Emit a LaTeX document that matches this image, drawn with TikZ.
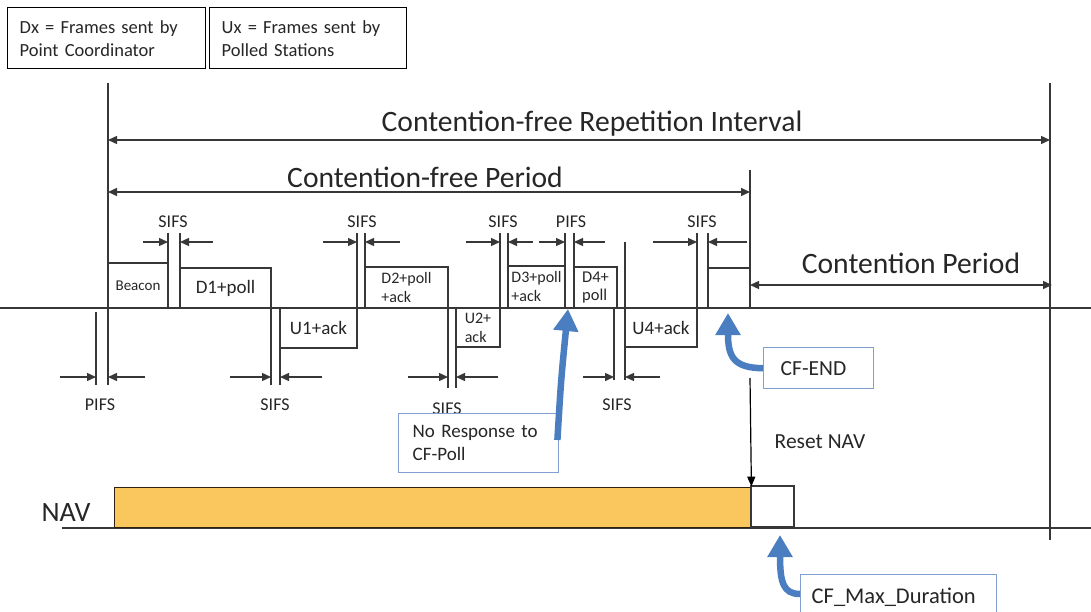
\documentclass[tikz,border=0pt]{standalone}
\usepackage{fontspec}
\setmainfont{Carlito}
\usetikzlibrary{arrows.meta}
\definecolor{linegray}{RGB}{55,55,55}
\definecolor{callblue}{RGB}{74,126,193}
\definecolor{boxblue}{RGB}{130,160,205}
\definecolor{navorange}{RGB}{250,199,95}
\tikzset{
  ln/.style={draw=linegray, line width=1.6pt},
  dim/.style={draw=linegray, line width=1.4pt, -{Triangle[length=9pt,width=8pt]}},
  dimboth/.style={draw=linegray, line width=1.4pt, {Triangle[length=9pt,width=8pt]}-{Triangle[length=9pt,width=8pt]}},
  lbl/.style={text=black!85, inner sep=0pt},
  frm/.style={ln, rectangle, inner sep=0pt, text=black!85, align=left},
  legend/.style={draw=black, line width=1.4pt, rectangle, anchor=north west, align=left, inner xsep=12pt,
    text=black!85, minimum height=61pt, font=\fontsize{18.5}{23}\selectfont},
  callbox/.style={draw=boxblue, line width=1.4pt, rectangle, fill=white, text=black!85, align=left, anchor=north west},
  callarrow/.style={draw=callblue, line width=6.5pt, -{Triangle[length=22pt,width=24pt]}},
  gapfont/.style={lbl, font=\fontsize{18}{20}\selectfont},
  bigfont/.style={lbl, font=\fontsize{29.6}{33}\selectfont},
}
\begin{document}
\begin{tikzpicture}[x=1pt, y=-1pt]
  \useasboundingbox (0,0) rectangle (1091,612);
  \node[legend, text width=174pt] (dxkey) at (7,7) {Dx = Frames sent by\\Point Coordinator};
  \node[legend, text width=173pt] (uxkey) at (209,7) {Ux = Frames sent by\\Polled Stations};

  \draw[ln] (0,308) -- (1091,308);
  \draw[ln] (108,83) -- (108,385);
  \draw[ln] (750,170) -- (750,308);
  \draw[ln] (1050,83) -- (1050,540);

  \draw[dimboth] (108,140) -- (1050,140);
  \node[bigfont] (cfri) at (592,124) {Contention-free Repetition Interval};
  \draw[dimboth] (108,192) -- (750,192);
  \node[bigfont] (cfp) at (425,177) {Contention-free Period};
  \draw[dimboth] (750,285) -- (1052,285);
  \node[bigfont] (cp) at (911,263) {Contention Period};

  \node[frm, minimum width=60pt, minimum height=45pt, font=\fontsize{15}{17}\selectfont] (beacon) at (138,285.5) {Beacon};
  \node[frm, minimum width=91pt, minimum height=40pt, font=\fontsize{19}{21}\selectfont] (d1) at (225.5,288) {D1+poll};
  \node[frm, minimum width=77pt, minimum height=40pt, font=\fontsize{19}{21}\selectfont] (u1) at (318.5,328) {U1+ack};
  \node[frm, minimum width=83pt, minimum height=41pt, font=\fontsize{16}{19}\selectfont] (d2) at (406.5,287.5) {D2+poll\\+ack};
  \node[frm, minimum width=44pt, minimum height=39pt, font=\fontsize{16}{19}\selectfont] (u2) at (478,327.5) {U2+\\ack};
  \node[frm, minimum width=57pt, minimum height=42pt, font=\fontsize{16}{19}\selectfont] (d3) at (536.5,287) {D3+poll\\+ack};
  \node[frm, minimum width=43pt, minimum height=41pt, font=\fontsize{16.5}{18}\selectfont] (d4) at (595.5,287.5) {D4+\\poll};
  \node[frm, minimum width=72pt, minimum height=39pt, font=\fontsize{19}{21}\selectfont] (u4) at (661,327.5) {U4+ack};
  \node[frm, minimum width=42pt, minimum height=40pt] (cfeframe) at (729,288) {};

  \draw[ln] (168,233) -- (168,308) (180,233) -- (180,308);
  \draw[dim] (143,242) -- (168,242);
  \draw[dim] (213,242) -- (180,242);
  \node[gapfont] (sifsa) at (173,222) {SIFS};
  \draw[ln] (357,233) -- (357,308) (365,233) -- (365,308);
  \draw[dim] (323,242) -- (357,242);
  \draw[dim] (400,242) -- (365,242);
  \node[gapfont] (sifsb) at (362,222) {SIFS};
  \draw[ln] (500,233) -- (500,308) (508,233) -- (508,308);
  \draw[dim] (466,242) -- (500,242);
  \draw[dim] (533,242) -- (508,242);
  \node[gapfont] (sifsc) at (503,222) {SIFS};
  \draw[ln] (565,233) -- (565,308) (574,233) -- (574,308);
  \draw[dim] (539,242) -- (565,242);
  \draw[dim] (605,242) -- (574,242);
  \node[gapfont] (pifsb) at (571,222) {PIFS};
  \draw[ln] (697,233) -- (697,308) (708,233) -- (708,308);
  \draw[dim] (653,242) -- (697,242);
  \draw[dim] (747,242) -- (708,242);
  \node[gapfont] (sifsd) at (702,222) {SIFS};

  \draw[ln] (96,312) -- (96,385);
  \draw[dim] (60,377) -- (96,377);
  \draw[dim] (145,377) -- (108,377);
  \node[gapfont] (pifsa) at (100,405) {PIFS};
  \draw[ln] (271,268) -- (271,385) (280,308) -- (280,385);
  \draw[dim] (230,377) -- (271,377);
  \draw[dim] (322,377) -- (280,377);
  \node[gapfont] (sifse) at (275,405) {SIFS};
  \draw[ln] (448,267) -- (448,388) (456,308) -- (456,388);
  \draw[dim] (408,377) -- (448,377);
  \draw[dim] (498,377) -- (456,377);
  \node[gapfont] (sifsf) at (447,409) {SIFS};
  \draw[ln] (614,308) -- (614,380) (625,242) -- (625,380);
  \draw[dim] (583,377) -- (614,377);
  \draw[dim] (660,377) -- (625,377);
  \node[gapfont] (sifsg) at (617,405) {SIFS};

  \node[lbl, font=\fontsize{28}{30}\selectfont] (nav) at (66,513) {NAV};
  \draw[ln] (62,528) -- (1091,528);
  \node[draw=black!75!brown, line width=1.4pt, fill=navorange, minimum width=636pt, minimum height=40pt,
    anchor=south west, inner sep=0pt] (navbar) at (114,528) {};
  \node[frm, minimum width=43pt, minimum height=41pt, anchor=south west] (navmax) at (750,528) {};
  \draw[draw=black, line width=1.2pt, -{Triangle[length=10pt,width=8pt]}] (750,378) -- (navbar.north east);
  \node[lbl, font=\fontsize{21.5}{24}\selectfont] (reset) at (820,442) {Reset NAV};

  \node[callbox, text width=132pt, inner xsep=14pt, minimum height=59pt, font=\fontsize{19}{23}\selectfont] (noresp) at (398,413) {No Response to\\CF-Poll};
  \node[callbox, text width=76pt, inner xsep=17pt, minimum height=41pt, font=\fontsize{21.5}{24}\selectfont] (cfend) at (763,347) {CF-END};
  \node[callbox, text width=174pt, inner xsep=11pt, minimum height=46pt, font=\fontsize{22.5}{24}\selectfont] (cfmax) at (800,574) {CF\_Max\_Duration};

  \coordinate (nrtip) at (568,309);
  \coordinate (cfetip) at (728,313);
  \coordinate (maxtip) at (780,535);
  \draw[callarrow] ([yshift=-27pt, xshift=-2pt]noresp.north east) .. controls (561,380) .. (nrtip);
  \draw[callarrow] (cfend.west) .. controls (733,368) and (728,356) .. (cfetip);
  \draw[callarrow] ([yshift=-20pt]cfmax.north west) .. controls (783,594) and (780,582) .. (maxtip);
\end{tikzpicture}
\end{document}
